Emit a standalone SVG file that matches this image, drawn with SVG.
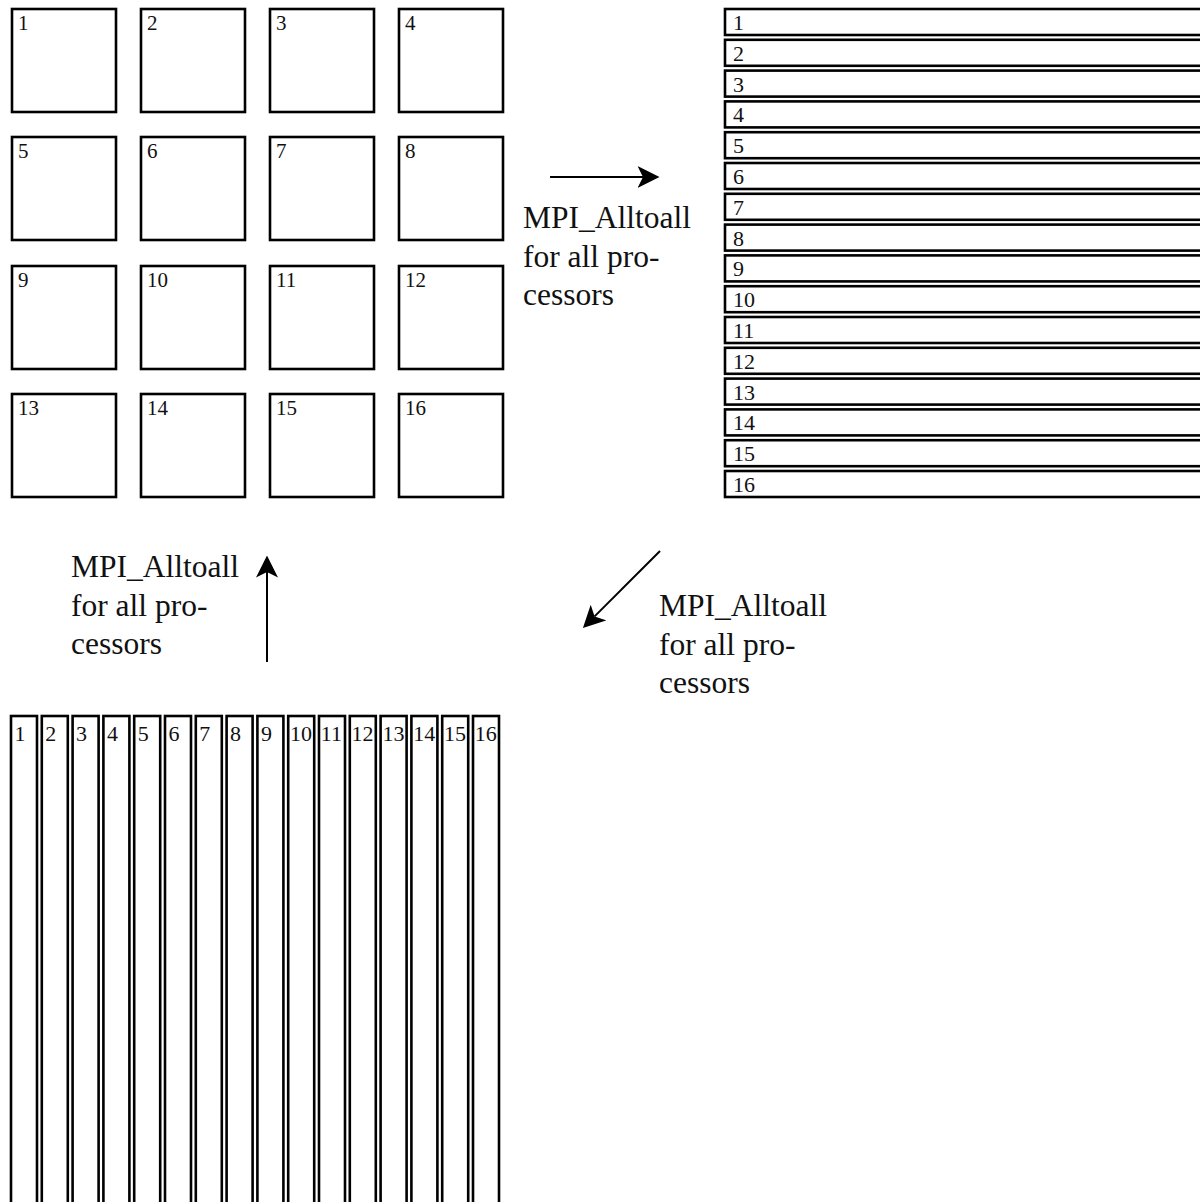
<svg xmlns="http://www.w3.org/2000/svg" width="1200" height="1202" viewBox="0 0 1200 1202">
<style>
.b{fill:#fff;stroke:#000;stroke-width:2.6}
.n{font-family:"Liberation Serif","Times New Roman",serif;font-size:21px;fill:#111}
.s{font-family:"Liberation Serif","Times New Roman",serif;font-size:22px;fill:#111}
.t{font-family:"Liberation Serif","Times New Roman",serif;font-size:31.5px;fill:#111}
.c{stroke:#000;stroke-width:2;fill:none}
</style>
<defs>
<marker id="ah" markerUnits="userSpaceOnUse" markerWidth="22" markerHeight="22" refX="5" refY="10" orient="auto" viewBox="0 0 20 20">
<path d="M0,0 L20,10 L0,20 L5,10 z" fill="#000"/>
</marker>
</defs>
<rect width="1200" height="1202" fill="#fff"/>
<g id="grid">
<g id="g1"><rect class="b" x="12" y="9" width="104" height="103"/><text class="n" x="18" y="30">1</text></g>
<g id="g2"><rect class="b" x="141" y="9" width="104" height="103"/><text class="n" x="147" y="30">2</text></g>
<g id="g3"><rect class="b" x="270" y="9" width="104" height="103"/><text class="n" x="276" y="30">3</text></g>
<g id="g4"><rect class="b" x="399" y="9" width="104" height="103"/><text class="n" x="405" y="30">4</text></g>
<g id="g5"><rect class="b" x="12" y="137" width="104" height="103"/><text class="n" x="18" y="158">5</text></g>
<g id="g6"><rect class="b" x="141" y="137" width="104" height="103"/><text class="n" x="147" y="158">6</text></g>
<g id="g7"><rect class="b" x="270" y="137" width="104" height="103"/><text class="n" x="276" y="158">7</text></g>
<g id="g8"><rect class="b" x="399" y="137" width="104" height="103"/><text class="n" x="405" y="158">8</text></g>
<g id="g9"><rect class="b" x="12" y="266" width="104" height="103"/><text class="n" x="18" y="287">9</text></g>
<g id="g10"><rect class="b" x="141" y="266" width="104" height="103"/><text class="n" x="147" y="287">10</text></g>
<g id="g11"><rect class="b" x="270" y="266" width="104" height="103"/><text class="n" x="276" y="287">11</text></g>
<g id="g12"><rect class="b" x="399" y="266" width="104" height="103"/><text class="n" x="405" y="287">12</text></g>
<g id="g13"><rect class="b" x="12" y="394" width="104" height="103"/><text class="n" x="18" y="415">13</text></g>
<g id="g14"><rect class="b" x="141" y="394" width="104" height="103"/><text class="n" x="147" y="415">14</text></g>
<g id="g15"><rect class="b" x="270" y="394" width="104" height="103"/><text class="n" x="276" y="415">15</text></g>
<g id="g16"><rect class="b" x="399" y="394" width="104" height="103"/><text class="n" x="405" y="415">16</text></g>
</g>
<g id="rows">
<g id="r1"><rect class="b" x="725" y="9" width="500" height="26"/><text class="s" x="733" y="30">1</text></g>
<g id="r2"><rect class="b" x="725" y="39.8" width="500" height="26"/><text class="s" x="733" y="60.8">2</text></g>
<g id="r3"><rect class="b" x="725" y="70.6" width="500" height="26"/><text class="s" x="733" y="91.6">3</text></g>
<g id="r4"><rect class="b" x="725" y="101.4" width="500" height="26"/><text class="s" x="733" y="122.4">4</text></g>
<g id="r5"><rect class="b" x="725" y="132.2" width="500" height="26"/><text class="s" x="733" y="153.2">5</text></g>
<g id="r6"><rect class="b" x="725" y="163" width="500" height="26"/><text class="s" x="733" y="184">6</text></g>
<g id="r7"><rect class="b" x="725" y="193.8" width="500" height="26"/><text class="s" x="733" y="214.8">7</text></g>
<g id="r8"><rect class="b" x="725" y="224.6" width="500" height="26"/><text class="s" x="733" y="245.6">8</text></g>
<g id="r9"><rect class="b" x="725" y="255.4" width="500" height="26"/><text class="s" x="733" y="276.4">9</text></g>
<g id="r10"><rect class="b" x="725" y="286.2" width="500" height="26"/><text class="s" x="733" y="307.2">10</text></g>
<g id="r11"><rect class="b" x="725" y="317" width="500" height="26"/><text class="s" x="733" y="338">11</text></g>
<g id="r12"><rect class="b" x="725" y="347.8" width="500" height="26"/><text class="s" x="733" y="368.8">12</text></g>
<g id="r13"><rect class="b" x="725" y="378.6" width="500" height="26"/><text class="s" x="733" y="399.6">13</text></g>
<g id="r14"><rect class="b" x="725" y="409.4" width="500" height="26"/><text class="s" x="733" y="430.4">14</text></g>
<g id="r15"><rect class="b" x="725" y="440.2" width="500" height="26"/><text class="s" x="733" y="461.2">15</text></g>
<g id="r16"><rect class="b" x="725" y="471" width="500" height="26"/><text class="s" x="733" y="492">16</text></g>
</g>
<g id="cols">
<g id="c1"><rect class="b" x="11" y="716" width="26" height="520"/><text class="s" x="14.5" y="741">1</text></g>
<g id="c2"><rect class="b" x="41.8" y="716" width="26" height="520"/><text class="s" x="45.3" y="741">2</text></g>
<g id="c3"><rect class="b" x="72.6" y="716" width="26" height="520"/><text class="s" x="76.1" y="741">3</text></g>
<g id="c4"><rect class="b" x="103.4" y="716" width="26" height="520"/><text class="s" x="106.9" y="741">4</text></g>
<g id="c5"><rect class="b" x="134.2" y="716" width="26" height="520"/><text class="s" x="137.7" y="741">5</text></g>
<g id="c6"><rect class="b" x="165" y="716" width="26" height="520"/><text class="s" x="168.5" y="741">6</text></g>
<g id="c7"><rect class="b" x="195.8" y="716" width="26" height="520"/><text class="s" x="199.3" y="741">7</text></g>
<g id="c8"><rect class="b" x="226.6" y="716" width="26" height="520"/><text class="s" x="230.1" y="741">8</text></g>
<g id="c9"><rect class="b" x="257.4" y="716" width="26" height="520"/><text class="s" x="260.9" y="741">9</text></g>
<g id="c10"><rect class="b" x="288.2" y="716" width="26" height="520"/><text class="s" x="290" y="741">10</text></g>
<g id="c11"><rect class="b" x="319" y="716" width="26" height="520"/><text class="s" x="320.8" y="741">11</text></g>
<g id="c12"><rect class="b" x="349.8" y="716" width="26" height="520"/><text class="s" x="351.6" y="741">12</text></g>
<g id="c13"><rect class="b" x="380.6" y="716" width="26" height="520"/><text class="s" x="382.4" y="741">13</text></g>
<g id="c14"><rect class="b" x="411.4" y="716" width="26" height="520"/><text class="s" x="413.2" y="741">14</text></g>
<g id="c15"><rect class="b" x="442.2" y="716" width="26" height="520"/><text class="s" x="444" y="741">15</text></g>
<g id="c16"><rect class="b" x="473" y="716" width="26" height="520"/><text class="s" x="474.8" y="741">16</text></g>
</g>
<g id="connectors">
<line class="c" x1="550" y1="177" x2="643" y2="177" marker-end="url(#ah)"/>
<line class="c" x1="660" y1="551" x2="594.6" y2="616.4" marker-end="url(#ah)"/>
<line class="c" x1="267" y1="662" x2="267" y2="572" marker-end="url(#ah)"/>
</g>
<g id="labels">
<text class="t" x="523" y="228">MPI_Alltoall</text>
<text class="t" x="523" y="267">for all pro-</text>
<text class="t" x="523" y="305">cessors</text>
<text class="t" x="71" y="577">MPI_Alltoall</text>
<text class="t" x="71" y="616">for all pro-</text>
<text class="t" x="71" y="654">cessors</text>
<text class="t" x="659" y="616">MPI_Alltoall</text>
<text class="t" x="659" y="655">for all pro-</text>
<text class="t" x="659" y="693">cessors</text>
</g>
</svg>
